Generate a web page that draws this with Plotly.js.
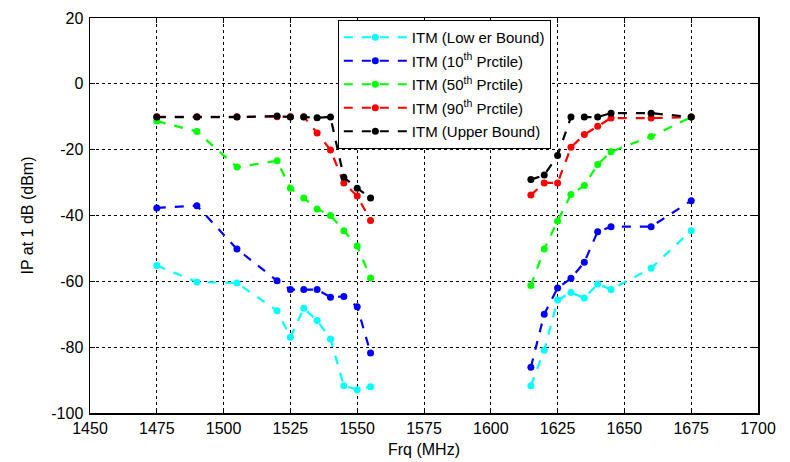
<!DOCTYPE html>
<html><head><meta charset="utf-8">
<script src="https://cdn.plot.ly/plotly-3.0.1.min.js"></script>
<style>html,body{margin:0;padding:0;background:#fff}#chart{width:790px;height:462px}</style>
</head><body><div id="chart"></div>
<script>
var freqLow = [1475,1490,1505,1520,1525,1530,1535,1540,1545,1550,1555];
var freqHigh = [1615,1620,1625,1630,1635,1640,1645,1660,1675];

var lowerLow  = [-55.2,-60.2,-60.5,-68.9,-77.0,-68.2,-71.9,-77.5,-91.7,-92.9,-92.0];
var lowerHigh = [-91.7,-80.9,-65.7,-63.4,-65.1,-60.8,-62.5,-56.0,-44.6];
var p10Low    = [-37.7,-37.0,-50.2,-59.8,-62.5,-62.5,-62.5,-64.8,-64.6,-67.7,-81.8];
var p10High   = [-86.1,-70.0,-62.0,-59.1,-54.2,-44.9,-43.4,-43.4,-35.5];
var p50Low    = [-11.3,-14.5,-25.3,-23.4,-31.7,-34.7,-38.0,-40.0,-44.6,-49.3,-59.0];
var p50High   = [-61.3,-50.2,-41.7,-33.6,-30.9,-24.5,-20.6,-16.0,-10.1];
var p90Low    = [-10.0,-10.0,-10.0,-10.0,-10.0,-10.0,-14.9,-20.1,-30.1,-34.1,-41.5];
var p90High   = [-33.8,-30.1,-30.1,-19.3,-15.4,-12.9,-10.4,-10.4,-10.1];
var upperLow  = [-10.1,-10.1,-10.1,-9.8,-10.1,-10.1,-10.3,-10.1,-28.4,-31.7,-34.7];
var upperHigh = [-29.1,-27.7,-21.8,-10.1,-10.1,-10.1,-8.9,-8.9,-10.1];

var seriesNames = ['ITM (Low er Bound)','ITM (10<sup>th</sup> Prctile)','ITM (50<sup>th</sup> Prctile)','ITM (90<sup>th</sup> Prctile)','ITM (Upper Bound)'];
var seriesColors = ['#00ffff','#0000ff','#00ff00','#ff0000','#000000'];

var xTickVals = [1450,1475,1500,1525,1550,1575,1600,1625,1650,1675,1700];
var yTickVals = [20,0,-20,-40,-60,-80,-100];
var yTickText = ['20','0','-20','-40','-60','-80','-100'];

var lows = [lowerLow,p10Low,p50Low,p90Low,upperLow];
var highs = [lowerHigh,p10High,p50High,p90High,upperHigh];
var xs = freqLow.concat([null]).concat(freqHigh);
var traces = [];
for (var i=0;i<5;i++){
  traces.push({
    x: xs, y: lows[i].concat([null]).concat(highs[i]),
    type:'scatter', mode:'lines+markers', name: seriesNames[i],
    legendgroup:'g'+i, connectgaps:false,
    line:{color:seriesColors[i], width:2.2, dash:'dash'},
    marker:{color:seriesColors[i], size:7}
  });
}
var fnt = {family:'"Liberation Sans", Arial, sans-serif', size:16, color:'#000'};
var layout = {
  width:790, height:462,
  margin:{l:90,r:32,t:18,b:49},
  paper_bgcolor:'#fff', plot_bgcolor:'#fff',
  font: fnt,
  showlegend:true,
  legend:{x:0.371, y:0.995, xanchor:'left', yanchor:'top', bgcolor:'#fff',
    bordercolor:'#000', borderwidth:1, traceorder:'grouped', tracegroupgap:1, itemwidth:63,
    font:{family:'"Liberation Sans", Arial, sans-serif', size:15, color:'#000'}},
  xaxis:{range:[1450,1700], tickvals:xTickVals, showgrid:true, gridcolor:'#000', griddash:'dot', gridwidth:1,
    showline:true, linecolor:'#000', linewidth:1.5, mirror:'ticks', ticks:'inside', ticklen:5, tickcolor:'#000',
    zeroline:false, tickfont:fnt, ticklabelstandoff:0, title:{text:'Frq (MHz)', font:fnt, standoff:8}},
  yaxis:{range:[-100,20], tickvals:yTickVals, ticktext:yTickText, showgrid:true, gridcolor:'#000', griddash:'dot', gridwidth:1,
    showline:true, linecolor:'#000', linewidth:1.5, mirror:'ticks', ticks:'inside', ticklen:5, tickcolor:'#000',
    zeroline:false, tickfont:fnt, ticklabelstandoff:2, title:{text:'IP at 1 dB (dBm)', font:fnt, standoff:13}}
};
Plotly.newPlot('chart', traces, layout, {displayModeBar:false, staticPlot:true});
</script></body></html>
